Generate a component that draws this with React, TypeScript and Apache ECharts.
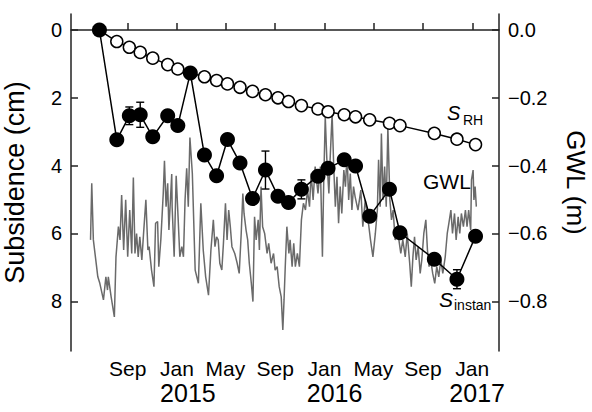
import React, { useEffect, useRef } from "react";
import * as echarts from "echarts";

// ---- data ----
const MONTH_NAMES = ["Jan", "Feb", "Mar", "Apr", "May", "Jun", "Jul", "Aug", "Sep", "Oct", "Nov", "Dec"];

const sampleDates = [
  "2014-06-23", "2014-08-05", "2014-09-05", "2014-10-02", "2014-11-02", "2014-12-09",
  "2015-01-03", "2015-02-03", "2015-03-10", "2015-04-09", "2015-05-06", "2015-06-06",
  "2015-07-07", "2015-08-08", "2015-09-08", "2015-10-04", "2015-11-05", "2015-12-16",
  "2016-01-10", "2016-02-19", "2016-03-18", "2016-04-22", "2016-06-10", "2016-07-06",
  "2016-09-29", "2016-11-24", "2017-01-09",
];
const sInstan = [0, 3.24, 2.53, 2.5, 3.15, 2.53, 2.82, 1.27, 3.69, 4.3, 3.23, 3.92, 4.97, 4.13, 4.9, 5.09, 4.7, 4.31, 4.08, 3.83, 4.01, 5.49, 4.7, 5.98, 6.76, 7.35, 6.08];
const sInstanErr = [0, 0, 0.26, 0.37, 0, 0, 0, 0, 0, 0.12, 0, 0, 0, 0.56, 0, 0.15, 0.28, 0, 0, 0, 0, 0, 0, 0.12, 0, 0.28, 0];
const sRH = [0, 0.34, 0.51, 0.66, 0.83, 1.02, 1.15, 1.27, 1.38, 1.49, 1.59, 1.69, 1.81, 1.91, 2.0, 2.11, 2.23, 2.33, 2.41, 2.5, 2.56, 2.65, 2.75, 2.82, 3.05, 3.22, 3.38];

// GWL: days since 2014-09-01, groundwater level (m)
const gwlDay = [
  -92, -89, -85, -77, -74, -69, -60, -54, -50, -48,
  -41, -33, -29, -23, -19, -15, -10, -5, 0, 5,
  10, 14, 18, 22, 26, 30, 35, 39, 45, 50,
  53, 59, 65, 69, 74, 77, 82, 88, 91, 95,
  99, 102, 109, 110, 115, 120, 125, 129, 134, 138,
  142, 146, 150, 154, 160, 167, 175, 181, 187, 193,
  200, 206, 212, 216, 220, 224, 228, 233, 237, 242,
  246, 250, 254, 258, 265, 271, 276, 281, 285, 288,
  293, 297, 301, 306, 310, 314, 318, 323, 326, 330,
  334, 339, 345, 349, 355, 361, 365, 370, 375, 380,
  384, 387, 390, 394, 399, 402, 407, 411, 415, 420,
  425, 430, 435, 440, 445, 450, 454, 459, 464, 471,
  477, 482, 485, 489, 493, 498, 501, 506, 510, 514,
  518, 522, 526, 530, 535, 539, 543, 547, 551, 555,
  559, 563, 570, 577, 582, 588, 595, 601, 607, 613,
  618, 621, 625, 628, 632, 636, 640, 644, 649, 653,
  657, 662, 669, 676, 681, 687, 692, 698, 702, 706,
  710, 714, 719, 724, 728, 733, 738, 742, 746, 750,
  755, 760, 765, 770, 775, 780, 786, 791, 795, 800,
  804, 809, 813, 818, 822, 826, 831, 836, 840, 844,
  849, 851, 855, 857, 860, 863,
];
const gwlLevel = [
  -0.619, -0.452, -0.619, -0.698, -0.728, -0.747, -0.796, -0.728, -0.767, -0.728,
  -0.787, -0.846, -0.669, -0.58, -0.619, -0.487, -0.649, -0.501, -0.669, -0.531,
  -0.659, -0.435, -0.659, -0.6, -0.669, -0.61, -0.678, -0.605, -0.501, -0.649,
  -0.639, -0.708, -0.757, -0.57, -0.565, -0.698, -0.619, -0.482, -0.386, -0.521,
  -0.452, -0.59, -0.425, -0.521, -0.669, -0.43, -0.56, -0.669, -0.639, -0.669,
  -0.501, -0.408, -0.521, -0.317, -0.423, -0.708, -0.747, -0.511, -0.649, -0.728,
  -0.782, -0.649, -0.56, -0.639, -0.61, -0.619, -0.688, -0.708, -0.629, -0.511,
  -0.619, -0.531, -0.58, -0.639, -0.659, -0.688, -0.718, -0.6, -0.482, -0.541,
  -0.59, -0.619, -0.688, -0.747, -0.801, -0.551, -0.619, -0.56, -0.649, -0.462,
  -0.58, -0.6, -0.659, -0.629, -0.688, -0.659, -0.708, -0.698, -0.757, -0.787,
  -0.885, -0.796, -0.698, -0.58, -0.659, -0.619, -0.698, -0.629, -0.698, -0.659,
  -0.698, -0.56, -0.511, -0.531, -0.472, -0.521, -0.423, -0.501, -0.403, -0.482,
  -0.403, -0.669, -0.462, -0.256, -0.383, -0.482, -0.383, -0.248, -0.403, -0.521,
  -0.433, -0.57, -0.462, -0.541, -0.413, -0.462, -0.364, -0.501, -0.423, -0.531,
  -0.462, -0.492, -0.531, -0.472, -0.58, -0.501, -0.56, -0.619, -0.669, -0.6,
  -0.531, -0.383, -0.521, -0.305, -0.501, -0.403, -0.521, -0.286, -0.501, -0.56,
  -0.531, -0.619, -0.6, -0.659, -0.619, -0.669, -0.6, -0.688, -0.757, -0.669,
  -0.61, -0.678, -0.639, -0.718, -0.678, -0.6, -0.56, -0.649, -0.698, -0.678,
  -0.718, -0.747, -0.698, -0.728, -0.678, -0.718, -0.669, -0.6, -0.57, -0.531,
  -0.6, -0.541, -0.619, -0.551, -0.6, -0.541, -0.58, -0.531, -0.58, -0.531,
  -0.59, -0.442, -0.413, -0.501, -0.462, -0.521,
];

const monthTickDates = ["2014-09-01", "2015-01-01", "2015-05-01", "2015-09-01", "2016-01-01", "2016-05-01", "2016-09-01", "2017-01-01"];
const yearLabelDates = ["2015-01-28", "2016-01-26", "2017-01-13"];
const subsidenceTicks = [0, 2, 4, 6, 8];
const gwlTicks = [0, -0.2, -0.4, -0.6, -0.8];

// ---- helpers ----
const DAY = 86400000;
const BASE = Date.UTC(2014, 8, 1);
const ts = (s: string) => Date.parse(s + "T00:00:00Z");
const FONT = "'Liberation Sans', Arial, Helvetica, sans-serif";

export default function App() {
  const ref = useRef<HTMLDivElement>(null);

  useEffect(() => {
    if (!ref.current) return;
    const chart = echarts.init(ref.current, null, { renderer: "svg" });

    const xs = sampleDates.map(ts);
    const instanData = xs.map((x, i) => [x, sInstan[i]]);
    const rhData = xs.map((x, i) => [x, sRH[i]]);
    const errData = xs.map((x, i) => [x, sInstan[i], sInstanErr[i]]);
    const n = Math.min(gwlDay.length, gwlLevel.length);
    const gwlData: number[][] = [];
    for (let i = 0; i < n; i++) gwlData.push([BASE + gwlDay[i] * DAY, gwlLevel[i]]);

    const axisLineStyle = { color: "#222", width: 1.5 };
    const xMin = BASE - 140.35 * DAY;
    const xMax = BASE + 919.1 * DAY;

    chart.setOption({
      animation: false,
      backgroundColor: "#fff",
      grid: { left: 71, right: 93, top: 14, bottom: 61, containLabel: false, outerBoundsMode: "none" },
      xAxis: [
        {
          type: "value",
          min: xMin,
          max: xMax,
          position: "bottom",
          splitLine: { show: false },
          axisLine: { show: true, lineStyle: axisLineStyle },
          axisTick: { show: true, inside: true, length: 7, lineStyle: axisLineStyle, customValues: monthTickDates.map(ts) },
          axisLabel: {
            customValues: monthTickDates.map(ts),
            formatter: (v: number) => MONTH_NAMES[new Date(v).getUTCMonth()],
            fontFamily: FONT,
            fontSize: 21,
            color: "#000",
            margin: 7,
          },
        },
        {
          type: "value",
          min: xMin,
          max: xMax,
          position: "bottom",
          splitLine: { show: false },
          axisLine: { show: false },
          axisTick: { show: false },
          axisLabel: {
            customValues: yearLabelDates.map(ts),
            formatter: (v: number) => String(new Date(v).getUTCFullYear()),
            fontFamily: FONT,
            fontSize: 25,
            color: "#000",
            margin: 29,
          },
        },
      ],
      yAxis: [
        {
          type: "value",
          inverse: true,
          min: -0.472,
          max: 9.467,
          position: "left",
          name: "Subsidence (cm)",
          nameLocation: "middle",
          nameGap: 43,
          nameRotate: 90,
          nameTextStyle: { fontFamily: FONT, fontSize: 27, color: "#000" },
          splitLine: { show: false },
          axisLine: { show: true, lineStyle: axisLineStyle },
          axisTick: { show: true, inside: true, length: 7, lineStyle: axisLineStyle, customValues: subsidenceTicks },
          axisLabel: {
            customValues: subsidenceTicks,
            formatter: (v: number) => String(v),
            fontFamily: FONT,
            fontSize: 20,
            color: "#000",
            margin: 9,
          },
        },
        {
          type: "value",
          min: -0.9467,
          max: 0.0472,
          position: "right",
          name: "GWL (m)",
          nameLocation: "middle",
          nameGap: 64,
          nameRotate: -90,
          nameTextStyle: { fontFamily: FONT, fontSize: 26, color: "#000", lineHeight: 26 },
          splitLine: { show: false },
          axisLine: { show: true, lineStyle: axisLineStyle },
          axisTick: { show: true, inside: true, length: 7, lineStyle: axisLineStyle, customValues: gwlTicks },
          axisLabel: {
            customValues: gwlTicks,
            formatter: (v: number) => (Math.abs(v) < 1e-9 ? "0.0" : v.toFixed(1).replace("-", "\u2212")),
            fontFamily: FONT,
            fontSize: 20,
            color: "#000",
            margin: 9,
          },
        },
      ],
      series: [
        {
          name: "GWL",
          type: "line",
          xAxisIndex: 0,
          yAxisIndex: 1,
          data: gwlData,
          showSymbol: false,
          symbol: "none",
          lineStyle: { color: "#6a6a6a", width: 1.5 },
          z: 1,
        },
        {
          name: "S_RH",
          type: "line",
          xAxisIndex: 0,
          yAxisIndex: 0,
          data: rhData,
          symbol: "circle",
          symbolSize: 12,
          itemStyle: { color: "#fff", borderColor: "#000", borderWidth: 1.5 },
          lineStyle: { color: "#000", width: 1.5 },
          z: 2,
        },
        {
          name: "errors",
          type: "custom",
          xAxisIndex: 0,
          yAxisIndex: 0,
          data: errData,
          encode: { x: 0, y: 1 },
          z: 3,
          renderItem: (params: any, api: any) => {
            const x = api.value(0);
            const y = api.value(1);
            const e = api.value(2);
            if (!e) return { type: "group", children: [] };
            const p1 = api.coord([x, y - e]);
            const p2 = api.coord([x, y + e]);
            const w = 4;
            const st = { stroke: "#000", lineWidth: 1.4 };
            return {
              type: "group",
              children: [
                { type: "line", shape: { x1: p1[0], y1: p1[1], x2: p2[0], y2: p2[1] }, style: st },
                { type: "line", shape: { x1: p1[0] - w, y1: p1[1], x2: p1[0] + w, y2: p1[1] }, style: st },
                { type: "line", shape: { x1: p2[0] - w, y1: p2[1], x2: p2[0] + w, y2: p2[1] }, style: st },
              ],
            };
          },
        },
        {
          name: "S_instan",
          type: "line",
          xAxisIndex: 0,
          yAxisIndex: 0,
          data: instanData,
          symbol: "circle",
          symbolSize: 15,
          itemStyle: { color: "#000", borderColor: "#000", borderWidth: 0 },
          lineStyle: { color: "#000", width: 1.5 },
          z: 4,
        },
      ],
      graphic: [
        { type: "text", left: 447, top: 103, style: { text: "S", fontFamily: FONT, fontStyle: "italic", fontSize: 20, fill: "#000" } },
        { type: "text", left: 463, top: 113, style: { text: "RH", fontFamily: FONT, fontSize: 14, fill: "#000" } },
        { type: "text", left: 423, top: 171, style: { text: "GWL", fontFamily: FONT, fontSize: 21, fill: "#000" } },
        { type: "text", left: 439, top: 289, style: { text: "S", fontFamily: FONT, fontStyle: "italic", fontSize: 21, fill: "#000" } },
        { type: "text", left: 454, top: 298, style: { text: "instan", fontFamily: FONT, fontSize: 14, fill: "#000" } },
      ],
    });

    return () => chart.dispose();
  }, []);

  return <div ref={ref} style={{ width: 592, height: 412, position: "absolute", left: 0, top: 0 }} />;
}
